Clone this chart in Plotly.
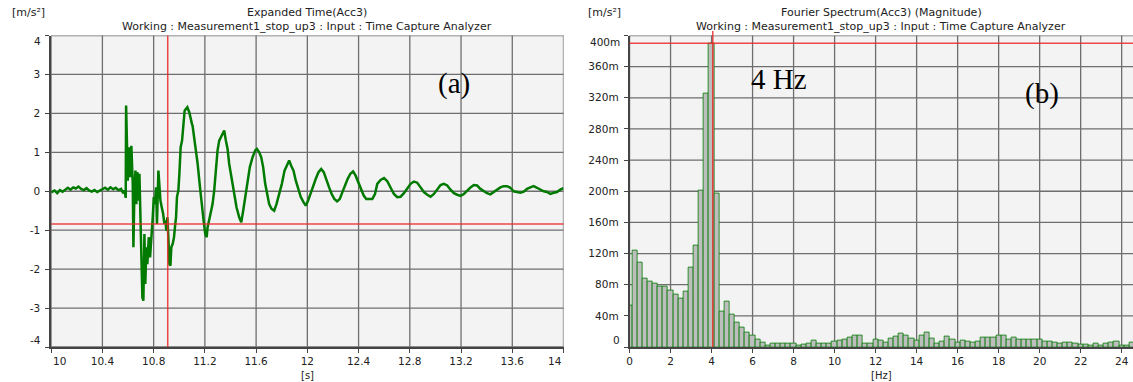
import plotly.graph_objects as go

# ---------------- data: (a) expanded time signal ----------------
time_s = [
    10.000, 10.026, 10.047, 10.068, 10.089, 10.109, 10.130, 10.151, 10.172, 10.193,
    10.213, 10.234, 10.255, 10.276, 10.296, 10.317, 10.338, 10.359, 10.380, 10.400,
    10.421, 10.442, 10.463, 10.484, 10.504, 10.525, 10.546, 10.562, 10.572, 10.582,
    10.585, 10.593, 10.598, 10.606, 10.611, 10.619, 10.626, 10.637, 10.642, 10.650,
    10.658, 10.665, 10.673, 10.681, 10.689, 10.697, 10.704, 10.712, 10.720, 10.728,
    10.735, 10.743, 10.751, 10.762, 10.772, 10.782, 10.793, 10.801, 10.809, 10.819,
    10.826, 10.837, 10.845, 10.853, 10.863, 10.874, 10.884, 10.892, 10.899, 10.907,
    10.915, 10.923, 10.931, 10.938, 10.949, 10.959, 10.969, 10.975, 10.982, 10.993,
    11.001, 11.011, 11.022, 11.032, 11.042, 11.053, 11.063, 11.078, 11.089, 11.099,
    11.104, 11.125, 11.143, 11.162, 11.177, 11.190, 11.203, 11.214, 11.221, 11.234,
    11.247, 11.260, 11.273, 11.286, 11.299, 11.312, 11.325, 11.338, 11.351, 11.364,
    11.377, 11.390, 11.411, 11.429, 11.447, 11.468, 11.484, 11.499, 11.515, 11.533,
    11.551, 11.572, 11.593, 11.606, 11.624, 11.640, 11.655, 11.671, 11.686, 11.702,
    11.720, 11.741, 11.759, 11.780, 11.801, 11.822, 11.843, 11.858, 11.873, 11.892,
    11.910, 11.931, 11.949, 11.970, 11.988, 12.006, 12.027, 12.045, 12.066, 12.087,
    12.108, 12.128, 12.149, 12.170, 12.190, 12.211, 12.232, 12.253, 12.273, 12.294,
    12.315, 12.336, 12.357, 12.377, 12.398, 12.419, 12.440, 12.460, 12.481,
    12.507, 12.528, 12.546, 12.572, 12.599, 12.624, 12.650, 12.676, 12.702, 12.728,
    12.754, 12.780, 12.806, 12.832, 12.858, 12.884, 12.910, 12.936, 12.962, 12.988,
    13.014, 13.040, 13.066, 13.092, 13.118, 13.144, 13.170, 13.196, 13.222, 13.248,
    13.274, 13.300, 13.325, 13.351, 13.377, 13.403, 13.429, 13.455, 13.481, 13.507,
    13.533, 13.559, 13.585, 13.611, 13.637, 13.663, 13.689, 13.715, 13.741, 13.767,
    13.793, 13.819, 13.845, 13.871, 13.897, 13.923, 13.949, 13.975, 14.000,
]
accel = [
    -0.03, 0.02, -0.05, 0.03, -0.01, 0.05, 0.09, 0.04, 0.10, 0.07,
    0.12, 0.06, 0.03, 0.08, 0.02, -0.01, 0.03, -0.02, 0.02, 0.05,
    0.09, 0.04, 0.10, 0.05, 0.09, 0.03, 0.06, -0.05, 0.02, -0.17,
    2.20, 1.05, 0.27, 0.87, 1.13, 0.36, 1.17, 0.19, -1.44, 0.02,
    0.53, -0.33, 0.49, -0.24, 0.45, -0.67, -2.21, -2.73, -2.81, -1.10,
    -2.38, -1.44, -1.87, -1.18, -1.70, -1.27, -0.67, -0.15, -0.33, 0.10,
    -0.84, 0.53, 0.10, -0.24, -0.41, -0.58, -0.84, -0.75, -1.01, -0.67,
    -1.18, -1.87, -1.91, -1.44, -1.35, -1.18, -0.84, -0.67, -0.15, 0.02,
    0.45, 1.13, 1.30, 1.73, 2.07, 2.12, 2.16, 2.03, 1.82, 1.73,
    1.68, 1.20, 0.72, 0.10, -0.43, -0.75, -1.10, -1.18, -0.93, -0.75,
    -0.58, -0.33, 0.02, 0.62, 1.05, 1.30, 1.39, 1.47, 1.56, 1.30,
    1.09, 0.70, 0.27, -0.07, -0.41, -0.67, -0.80, -0.50, -0.15, 0.27,
    0.62, 0.87, 1.05, 1.09, 1.00, 0.87, 0.62, 0.19, -0.07, -0.33,
    -0.45, -0.50, -0.33, -0.07, 0.19, 0.53, 0.70, 0.79, 0.66, 0.53,
    0.27, 0.02, -0.15, -0.28, -0.37, -0.24, -0.03, 0.10, 0.32, 0.49,
    0.57, 0.49, 0.32, 0.10, -0.07, -0.20, -0.26, -0.20, -0.03, 0.15,
    0.32, 0.45, 0.51, 0.40, 0.23, 0.02, -0.11, -0.20, -0.20,
    -0.20, -0.07, 0.19, 0.29, 0.34, 0.26, 0.10, -0.07, -0.15, -0.14,
    -0.05, 0.06, 0.19, 0.25, 0.22, 0.10, -0.02, -0.09, -0.14, -0.07,
    0.06, 0.16, 0.19, 0.15, 0.04, -0.05, -0.09, -0.12, -0.07, 0.02,
    0.10, 0.16, 0.15, 0.06, 0.00, -0.05, -0.08, -0.02, 0.06, 0.10,
    0.13, 0.13, 0.09, 0.00, -0.02, -0.04, -0.01, 0.06, 0.10, 0.13,
    0.09, 0.04, 0.00, -0.02, -0.07, -0.04, -0.02, 0.04, 0.08,
]

# ---------------- data: (b) Fourier spectrum magnitude ----------------
freq_hz = [
    0.00, 0.25, 0.50, 0.75, 1.00, 1.25, 1.50, 1.75, 2.00, 2.25,
    2.50, 2.75, 3.00, 3.25, 3.50, 3.75, 4.00, 4.25, 4.50, 4.75,
    5.00, 5.25, 5.50, 5.75, 6.00, 6.25, 6.50, 6.75, 7.00, 7.25,
    7.50, 7.75, 8.00, 8.25, 8.50, 8.75, 9.00, 9.25, 9.50, 9.75,
    10.00, 10.25, 10.50, 10.75, 11.00, 11.25, 11.50, 11.75, 12.00, 12.25,
    12.50, 12.75, 13.00, 13.25, 13.50, 13.75, 14.00, 14.25, 14.50, 14.75,
    15.00, 15.25, 15.50, 15.75, 16.00, 16.25, 16.50, 16.75, 17.00, 17.25,
    17.50, 17.75, 18.00, 18.25, 18.50, 18.75, 19.00, 19.25, 19.50, 19.75,
    20.00, 20.25, 20.50, 20.75, 21.00, 21.25, 21.50, 21.75, 22.00, 22.25,
    22.50, 22.75, 23.00, 23.25, 23.50, 23.75, 24.00, 24.25, 24.50,
]
magnitude = [  # m/s^2
    0.0530, 0.1240, 0.1080, 0.0880, 0.0840, 0.0820, 0.0780, 0.0780, 0.0730, 0.0680,
    0.0620, 0.0710, 0.1020, 0.1300, 0.2010, 0.3260, 0.3900, 0.1970, 0.0460, 0.0580,
    0.0420, 0.0320, 0.0250, 0.0190, 0.0150, 0.0100, 0.0060, 0.0025, 0.0040, 0.0050,
    0.0050, 0.0050, 0.0040, 0.0020, 0.0030, 0.0040, 0.0080, 0.0050, 0.0050, 0.0050,
    0.0070, 0.0080, 0.0095, 0.0125, 0.0150, 0.0150, 0.0050, 0.0050, 0.0100, 0.0080,
    0.0060, 0.0115, 0.0137, 0.0167, 0.0150, 0.0110, 0.0080, 0.0145, 0.0184, 0.0110,
    0.0050, 0.0070, 0.0137, 0.0100, 0.0060, 0.0085, 0.0070, 0.0064, 0.0077, 0.0124,
    0.0124, 0.0124, 0.0154, 0.0154, 0.0090, 0.0124, 0.0100, 0.0100, 0.0100, 0.0090,
    0.0100, 0.0070, 0.0070, 0.0064, 0.0040, 0.0064, 0.0055, 0.0040, 0.0034, 0.0034,
    0.0025, 0.0040, 0.0025, 0.0050, 0.0060, 0.0070, 0.0025, 0.0025, 0.0055,
]
bin_width_hz = 0.25

# cursor readouts
cursor_time, cursor_accel = 10.91, -0.84
cursor_freq, cursor_mag = 4.06, 0.390

# axis ticks
t_ticks = [10, 10.4, 10.8, 11.2, 11.6, 12, 12.4, 12.8, 13.2, 13.6, 14]
t_labels = ["10", "10.4", "10.8", "11.2", "11.6", "12", "12.4", "12.8", "13.2", "13.6", "14"]
a_ticks = [-4, -3, -2, -1, 0, 1, 2, 3, 4]
a_labels = ["-4", "-3", "-2", "-1", "0", "1", "2", "3", "4"]
f_ticks = [0, 2, 4, 6, 8, 10, 12, 14, 16, 18, 20, 22, 24]
f_labels = ["0", "2", "4", "6", "8", "10", "12", "14", "16", "18", "20", "22", "24"]
m_ticks = [0, 0.04, 0.08, 0.12, 0.16, 0.20, 0.24, 0.28, 0.32, 0.36, 0.40]
m_labels = ["0", "40m", "80m", "120m", "160m", "200m", "240m", "280m", "320m", "360m", "400m"]

# ---------------- layout geometry (pixels) ----------------
W, H = 1133, 382
def px(x):
    return x / W
def py(y):
    return 1 - y / H

PLOT_TOP, PLOT_BOT = 35.5, 347.0
L_X0, L_X1 = 48.3, 562.0
R_X0, R_X1 = 628.2, 1133.0

FONT = "DejaVu Sans, Verdana, sans-serif"
SERIF = "Liberation Serif, Times New Roman, serif"
TXT = "#222222"
GRID = "#6e6e6e"
AXIS = "#444444"
BG = "#f3f3f3"
RED = "rgba(235,40,40,0.85)"
FS = 10.5
FS_TITLE = 11

fig = go.Figure()

fig.add_trace(go.Scatter(
    x=time_s, y=accel, mode="lines",
    line=dict(color="#007a00", width=2.5),
    xaxis="x", yaxis="y", showlegend=False, hoverinfo="skip",
))

fig.add_trace(go.Bar(
    x=freq_hz, y=magnitude, width=bin_width_hz,
    marker=dict(color="#bebebe", line=dict(color="#007a00", width=0.8)),
    xaxis="x2", yaxis="y2", showlegend=False, hoverinfo="skip",
))

def inner(labels):
    return [""] + labels[1:-1] + [""]

axis_common = dict(
    showgrid=False,
    showline=True, linecolor=AXIS, linewidth=1.6,
    ticks="outside", ticklen=4, tickcolor=AXIS, tickwidth=1,
    zeroline=False, tickfont=dict(family=FONT, size=FS, color=TXT),
)

fig.update_layout(
    width=W, height=H, autosize=False,
    margin=dict(l=0, r=0, t=0, b=0),
    paper_bgcolor="white", plot_bgcolor="rgba(0,0,0,0)",
    bargap=0,
    xaxis=dict(domain=[px(L_X0), px(L_X1)], range=[10, 14], anchor="y",
               tickvals=t_ticks, ticktext=inner(t_labels), **axis_common),
    yaxis=dict(domain=[py(PLOT_BOT), py(PLOT_TOP)], range=[-4, 4], anchor="x",
               tickvals=a_ticks, ticktext=inner(a_labels), ticklabelstandoff=3, **axis_common),
    xaxis2=dict(domain=[px(R_X0), px(R_X1)], range=[0, (R_X1 - R_X0) / 20.56], anchor="y2",
                tickvals=f_ticks, ticktext=f_labels, **axis_common),
    yaxis2=dict(domain=[py(PLOT_BOT), py(PLOT_TOP)], range=[0, 0.40], anchor="x2",
                tickvals=m_ticks, ticktext=inner(m_labels), ticklabelstandoff=3, **axis_common),
)

# plot backgrounds (beneath everything)
for xr, yr in (("x domain", "y domain"), ("x2 domain", "y2 domain")):
    fig.add_shape(type="rect", xref=xr, yref=yr, x0=0, x1=1, y0=0, y1=1,
                  fillcolor=BG, line=dict(width=0), layer="below")

# grid lines at the tick positions (beneath the data)
for v in t_ticks:
    fig.add_shape(type="line", xref="x", yref="y domain", x0=v, x1=v, y0=0, y1=1,
                  line=dict(color=GRID, width=1.3), layer="below")
for v in a_ticks:
    fig.add_shape(type="line", xref="x domain", yref="y", x0=0, x1=1, y0=v, y1=v,
                  line=dict(color=GRID, width=1.3), layer="below")
for v in f_ticks:
    fig.add_shape(type="line", xref="x2", yref="y2 domain", x0=v, x1=v, y0=0, y1=1,
                  line=dict(color=GRID, width=1.3), layer="below")
for v in m_ticks:
    fig.add_shape(type="line", xref="x2 domain", yref="y2", x0=0, x1=1, y0=v, y1=v,
                  line=dict(color=GRID, width=1.3), layer="below")

# cursors
fig.add_shape(type="line", xref="x", yref="y domain", x0=cursor_time, x1=cursor_time, y0=0, y1=1,
              line=dict(color=RED, width=1.5))
fig.add_shape(type="line", xref="x domain", yref="y", x0=0, x1=1, y0=cursor_accel, y1=cursor_accel,
              line=dict(color=RED, width=1.5))
fig.add_shape(type="line", xref="x2", yref="paper", x0=cursor_freq, x1=cursor_freq,
              y0=py(PLOT_BOT), y1=py(31), line=dict(color=RED, width=1.5))
fig.add_shape(type="line", xref="x2 domain", yref="y2", x0=0, x1=1, y0=cursor_mag, y1=cursor_mag,
              line=dict(color=RED, width=1.5))

ann = []
def text(x, y, s, size=FS, family=FONT, xanchor="center", yanchor="middle", **kw):
    ann.append(dict(x=x, y=y, text=s, showarrow=False, xanchor=xanchor, yanchor=yanchor,
                    font=dict(family=family, size=size, color=kw.pop("color", TXT)), **kw))

# titles
text(px(7), py(12), "[m/s²]", size=FS_TITLE, xanchor="left", xref="paper", yref="paper")
text(px((L_X0 + L_X1) / 2), py(12), "Expanded Time(Acc3)", size=FS_TITLE, xref="paper", yref="paper")
text(px((L_X0 + L_X1) / 2), py(27), "Working : Measurement1_stop_up3 : Input : Time Capture Analyzer",
     size=FS_TITLE, xref="paper", yref="paper")
text(px(585), py(12), "[m/s²]", size=FS_TITLE, xanchor="left", xref="paper", yref="paper")
text(px((R_X0 + R_X1) / 2), py(12), "Fourier Spectrum(Acc3) (Magnitude)", size=FS_TITLE,
     xref="paper", yref="paper")
text(px((R_X0 + R_X1) / 2), py(27), "Working : Measurement1_stop_up3 : Input : Time Capture Analyzer",
     size=FS_TITLE, xref="paper", yref="paper")

# axis unit labels
text(px((L_X0 + L_X1) / 2), py(375), "[s]", size=10, xref="paper", yref="paper")
text(px((R_X0 + R_X1) / 2), py(375), "[Hz]", size=10, xref="paper", yref="paper")

# clamped end tick labels
text(0, a_ticks[-1], a_labels[-1], xref="x domain", yref="y", xanchor="right", xshift=-8, yshift=-6)
text(0, a_ticks[0], a_labels[0], xref="x domain", yref="y", xanchor="right", xshift=-8, yshift=7)
text(t_ticks[0], 0, t_labels[0], xref="x", yref="y domain", xanchor="left", yanchor="top", yshift=-6)
text(t_ticks[-1], 0, t_labels[-1], xref="x", yref="y domain", xanchor="right", yanchor="top", yshift=-6)
text(0, m_ticks[-1], m_labels[-1], xref="x2 domain", yref="y2", xanchor="right", xshift=-8, yshift=-7)
text(0, m_ticks[0], m_labels[0], xref="x2 domain", yref="y2", xanchor="right", xshift=-8, yshift=7)

# panel markers
text(px(452), py(83), "(a)", size=29, family=SERIF, xref="paper", yref="paper", color="#000")
text(px(778), py(79), "4 Hz", size=29, family=SERIF, xref="paper", yref="paper", color="#000")
text(px(1042), py(93), "(b)", size=29, family=SERIF, xref="paper", yref="paper", color="#000")

fig.update_layout(annotations=ann)

fig.write_html("out.html")
